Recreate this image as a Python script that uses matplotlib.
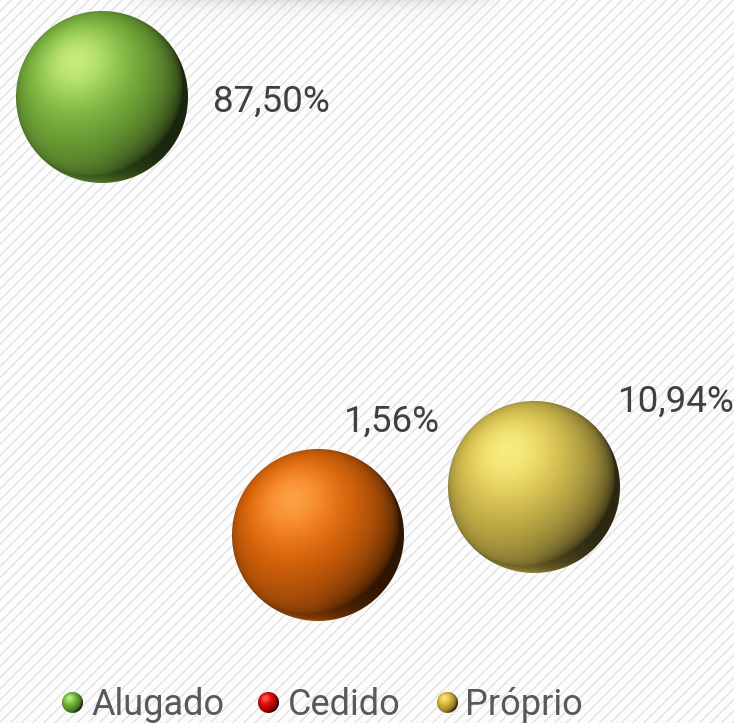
import matplotlib
matplotlib.use("Agg")
import matplotlib.pyplot as plt
import numpy as np
from matplotlib.offsetbox import OffsetImage, AnnotationBbox

# dados
categorias = ["Alugado", "Cedido", "Próprio"]
posicao_x = [1, 2, 3]
percentuais = [87.50, 1.56, 10.94]
rotulos = ["87,50%", "1,56%", "10,94%"]

# cores (base, brilho)
cores_bolha = [(0.50, 0.74, 0.25), (0.91, 0.42, 0.04), (0.87, 0.78, 0.32)]
brilho_bolha = [(0.92, 1.00, 0.62), (1.00, 0.72, 0.38), (1.00, 0.98, 0.58)]
cores_legenda = [(0.45, 0.74, 0.22), (0.90, 0.02, 0.02), (0.88, 0.74, 0.22)]
brilho_legenda = [(0.85, 1.00, 0.65), (1.00, 0.55, 0.55), (1.00, 0.95, 0.60)]

FONTE = ["Roboto", "DejaVu Sans"]


def esfera(base, brilho, d):
    """Imagem RGBA de uma esfera sombreada com d pixels de diametro."""
    c = (np.arange(d) + 0.5) / d * 2 - 1
    nx, ny = np.meshgrid(c, -c)
    r2 = nx ** 2 + ny ** 2
    nz = np.sqrt(np.clip(1 - r2, 0, 1))
    L = np.array([-0.32, 0.40, 0.86])
    L = L / np.linalg.norm(L)
    dif = np.clip(nx * L[0] + ny * L[1] + nz * L[2], 0, 1)
    H = np.array([-0.30, 0.42, 0.86])
    H = H / np.linalg.norm(H)
    spec = np.clip(nx * H[0] + ny * H[1] + nz * H[2], 0, 1) ** 10
    refl = np.clip(-ny, 0, 1) ** 1.5 * (1 - nz) ** 1.0 * np.clip(1 - np.clip(nx, 0, 1) * 1.3, 0, 1)
    base = np.array(base)
    bri = np.array(brilho)
    img = base[None, None, :] * (0.2 + 0.85 * dif[..., None] ** 0.7)
    img = img + refl[..., None] * 0.5 * base[None, None, :]
    img = img * (1 - 0.65 * spec[..., None]) + bri[None, None, :] * 0.65 * spec[..., None]
    img = np.clip(img, 0, 1)
    alfa = np.clip((1 - np.sqrt(r2)) * d / 2 + 0.5, 0, 1)
    return np.dstack([img, alfa])


W, H = 734, 723
fig = plt.figure(figsize=(W / 100, H / 100), dpi=100)
plt.rcParams["hatch.linewidth"] = 2.2
fig.patch.set_facecolor("#fcfcfc")
fig.patch.set_edgecolor("#e2e2e2")
fig.patch.set_hatch("///")
fig.patch.set_linewidth(0)

# sombra suave no topo
fundo = fig.add_axes([0, 0, 1, 1], zorder=0)
fundo.set_xlim(0, W)
fundo.set_ylim(H, 0)
fundo.axis("off")
fundo.patch.set_alpha(0)
gx, gy = np.meshgrid(np.arange(W), np.arange(30))
sx = np.clip(1 - np.abs((gx - 315) / 190.0) ** 4, 0, 1)
sy = np.exp(-gy / 7.0)
sombra = np.zeros((30, W, 4))
sombra[..., :3] = 0.55
sombra[..., 3] = 0.22 * sx * sy
fundo.imshow(sombra, extent=(0, W, 30, 0), aspect="auto", zorder=1)

ax = fig.add_axes([0, 0, 1, 1], zorder=2)
ax.patch.set_alpha(0)
ax.set_xlim(1 - 102 / 216, 1 + (W - 102) / 216)
ax.set_ylim(-(H - 543) / 5.097, 543 / 5.097)
ax.axis("off")

# bolhas
offsets = [(111, -15), (26, 103), (84, 76)]
for x, v, cb, cl, rot, off in zip(posicao_x, percentuais, cores_bolha, brilho_bolha, rotulos, offsets):
    ax.scatter([x], [v], s=150 ** 2 * 0.72 ** 2, color=cb, edgecolor="none", zorder=2)
    im = OffsetImage(esfera(cb, cl, 172), zoom=1, dpi_cor=False)
    ab = AnnotationBbox(im, (x, v), frameon=False, pad=0, zorder=3)
    ax.add_artist(ab)
    ax.annotate(rot, (x, v), xytext=off, textcoords="offset pixels",
                ha="left", va="baseline", fontsize=26.5, color="#404040",
                family=FONTE, zorder=4)

# legenda
marc_x = [72, 268, 447]
texto_x = [91, 288, 465]
for cat, cb, cl, mx, tx in zip(categorias, cores_legenda, brilho_legenda, marc_x, texto_x):
    im = OffsetImage(esfera(cb, cl, 21), zoom=1, dpi_cor=False)
    ab = AnnotationBbox(im, (mx, H - 703), xycoords="figure pixels", frameon=False, pad=0)
    fig.add_artist(ab)
    fig.text(tx / W, (H - 715) / H, cat, ha="left", va="baseline", fontsize=26,
             color="#595959", family=FONTE)

fig.savefig("out.png", dpi=100, facecolor=fig.get_facecolor())
